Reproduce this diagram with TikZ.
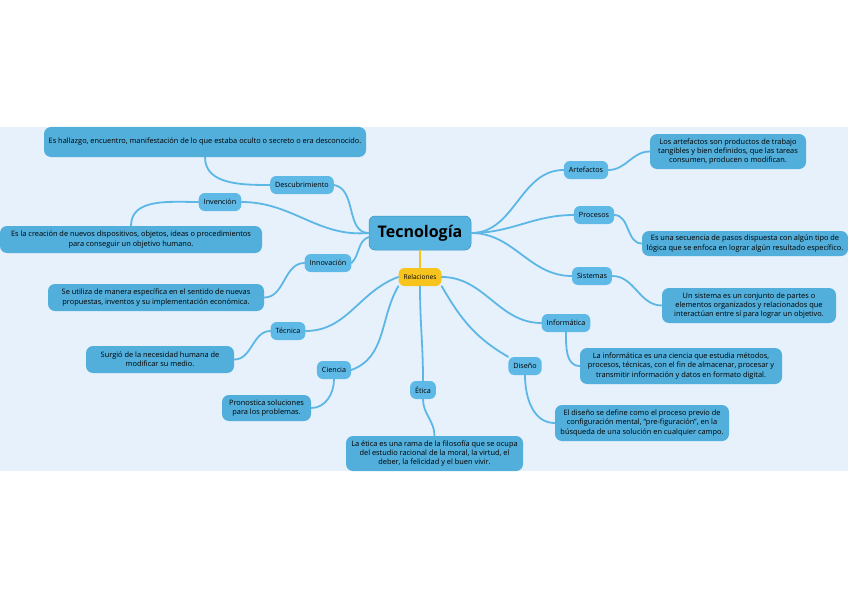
\documentclass[tikz,border=0pt]{standalone}
\usepackage{fontspec}
\setmainfont{Open Sans}
\usepackage{tikz}
\usetikzlibrary{positioning}
\definecolor{bandblue}{HTML}{E6F1FC}
\definecolor{notefill}{HTML}{52AEDA}
\definecolor{branchfill}{HTML}{5FB9E7}
\definecolor{topicfill}{HTML}{56B2DE}
\definecolor{topicline}{HTML}{3B93C2}
\definecolor{linkblue}{HTML}{5DB7E5}
\definecolor{hubyellow}{HTML}{F6C41C}

\begin{document}
\begin{tikzpicture}[x=1pt,y=-1pt,
  topic/.style={draw=topicline,line width=0.5pt,fill=topicfill,rounded corners=6pt,minimum width=102pt,minimum height=34pt,font=\fontsize{16}{18}\selectfont\bfseries},
  hub/.style={fill=hubyellow,rounded corners=6pt,minimum width=43pt,minimum height=18pt,inner sep=2pt,font=\fontsize{6.6}{8}\selectfont},
  branch/.style={fill=branchfill,rounded corners=6pt,minimum height=18pt,inner xsep=5pt,inner ysep=2pt,font=\fontsize{7.2}{8}\selectfont},
  note/.style={fill=notefill,rounded corners=7pt,align=center,inner xsep=3pt,inner ysep=2pt,font=\fontsize{7.4}{9.2}\selectfont},
  link/.style={draw=linkblue,line width=1.8pt,line cap=round},
  hublink/.style={draw=hubyellow,line width=1.8pt,line cap=round}
]
\useasboundingbox (0,0) rectangle (848,599);
\fill[bandblue] (0,127) rectangle (848,471);

% centre
\node[topic] (tecno) at (420,233) {Tecnología};
\node[hub] (rel) at (420,277) {Relaciones};

% branches
\node[branch] (descub) at (302,185) {Descubrimiento};
\node[branch] (inven) at (220,202) {Invención};
\node[branch] (innov) at (328,263) {Innovación};
\node[branch] (tecnica) at (288,331) {Técnica};
\node[branch] (ciencia) at (334,370) {Ciencia};
\node[branch] (etica) at (423,390) {Ética};
\node[branch] (diseno) at (525,366) {Diseño};
\node[branch] (inform) at (566,323) {Informática};
\node[branch] (sistemas) at (592,276) {Sistemas};
\node[branch] (procesos) at (594,215) {Procesos};
\node[branch] (artef) at (586,170) {Artefactos};

% notes
\node[note,minimum width=322pt,minimum height=30pt] (descubN) at (205,142) {Es hallazgo, encuentro, manifestación de lo que estaba oculto o secreto o era desconocido.};
\node[note,minimum width=262pt,minimum height=27pt] (invenN) at (131,239.5) {Es la creación de nuevos dispositivos, objetos, ideas o procedimientos\\para conseguir un objetivo humano.};
\node[note,minimum width=216pt,minimum height=27pt] (innovN) at (156,297.5) {Se utiliza de manera específica en el sentido de nuevas\\propuestas, inventos y su implementación económica.};
\node[note,minimum width=148pt,minimum height=27pt] (tecnicaN) at (160,359.5) {Surgió de la necesidad humana de\\modificar su medio.};
\node[note,minimum width=89pt,minimum height=26pt] (cienciaN) at (266.5,408) {Pronostica soluciones\\para los problemas.};
\node[note,minimum width=177pt,minimum height=35pt] (eticaN) at (434.5,453.5) {La ética es una rama de la filosofía que se ocupa\\del estudio racional de la moral, la virtud, el\\deber, la felicidad y el buen vivir.};
\node[note,minimum width=174pt,minimum height=36pt] (disenoN) at (642,423) {El diseño se define como el proceso previo de\\configuración mental, “pre-figuración”, en la\\búsqueda de una solución en cualquier campo.};
\node[note,minimum width=202pt,minimum height=36pt] (informN) at (681,366) {La informática es una ciencia que estudia métodos,\\procesos, técnicas, con el fin de almacenar, procesar y\\transmitir información y datos en formato digital.};
\node[note,minimum width=174pt,minimum height=35pt] (sistemasN) at (749,305.5) {Un sistema es un conjunto de partes o\\elementos organizados y relacionados que\\interactúan entre sí para lograr un objetivo.};
\node[note,minimum width=206pt,minimum height=25pt] (procesosN) at (745,243.5) {Es una secuencia de pasos dispuesta con algún tipo de\\lógica que se enfoca en lograr algún resultado específico.};
\node[note,minimum width=156pt,minimum height=35pt] (artefN) at (728,151.5) {Los artefactos son productos de trabajo\\tangibles y bien definidos, que las tareas\\consumen, producen o modifican.};

% centre links
\draw[hublink] (tecno.south) -- (rel.north);
\draw[link] (tecno.west) to[out=180,in=-10] (descub.east);
\draw[link] (tecno.west) to[out=185,in=0] (inven.east);
\draw[link] ([yshift=-4pt]tecno.west) to[out=200,in=45] (innov.east);
\draw[link] (tecno.east) to[out=0,in=180] (artef.west);
\draw[link] (tecno.east) to[out=0,in=180] (procesos.west);
\draw[link] (tecno.east) to[out=0,in=180] (sistemas.west);
\draw[link] (rel.west) to[out=200,in=0] (tecnica.east);
\draw[link] (rel.south west) to[out=240,in=20] (ciencia.east);
\draw[link] (rel.south) to[out=-90,in=90] (etica.north);
\draw[link] (rel.south east) to[out=-60,in=150] (diseno.north west);
\draw[link] (rel.east) to[out=0,in=180] (inform.west);

% branch links
\draw[link] (descub.west) to[out=180,in=-90] (descubN.south);
\draw[link] (inven.west) to[out=180,in=90] (invenN.north);
\draw[link] (innov.west) to[out=180,in=0] (innovN.east);
\draw[link] (tecnica.west) to[out=180,in=0] (tecnicaN.east);
\draw[link] (ciencia.south) to[out=-90,in=0] (cienciaN.east);
\draw[link] (etica.south) to[out=-90,in=90] (eticaN.north);
\draw[link] (diseno.south) to[out=-90,in=180] (disenoN.west);
\draw[link] (inform.south) to[out=-90,in=180] (informN.west);
\draw[link] (sistemas.east) to[out=0,in=180] (sistemasN.west);
\draw[link] (procesos.east) to[out=0,in=180] (procesosN.west);
\draw[link] (artef.east) to[out=0,in=180] (artefN.west);
\end{tikzpicture}
\end{document}
